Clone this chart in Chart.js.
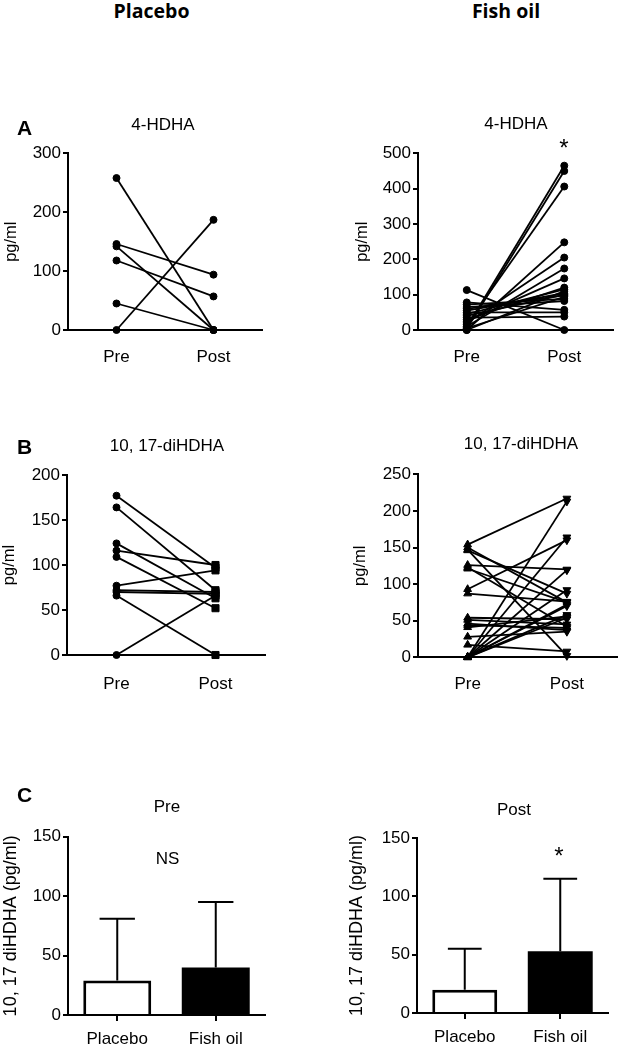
<!DOCTYPE html>
<html>
<head>
<meta charset="utf-8">
<script src="https://cdn.jsdelivr.net/npm/chart.js@4.4.1/dist/chart.umd.min.js"></script>
<style>
  html, body { margin: 0; padding: 0; background: #fff; }
  #page { position: relative; width: 622px; height: 1045px; overflow: hidden; background: #fff; }
  #page canvas { position: absolute; }
  .lbl {
    position: absolute;
    transform: translate(-50%, -50%);
    line-height: 1;
    white-space: nowrap;
    color: #000;
  }
</style>
</head>
<body>
<div id="page"></div>
<script>
"use strict";

// ---- data ----
const timeLabels = ["Pre", "Post"];
const groupLabels = ["Placebo", "Fish oil"];

// A: 4-HDHA, pg/ml, one entry per subject
const hdhaPlaceboPre = [258, 146, 142, 118, 45, 0];
const hdhaPlaceboPost = [0, 94, 0, 57, 0, 187];
const hdhaFishPre = [8, 3, 15, 0, 20, 10, 25, 30, 45, 0, 55, 40, 60, 5, 72, 65, 78, 50, 35, 113];
const hdhaFishPost = [465, 450, 406, 248, 205, 174, 146, 120, 115, 110, 104, 100, 98, 94, 88, 82, 57, 50, 38, 0];

// B: 10,17-diHDHA, pg/ml
const diPlaceboPre = [177, 164, 124, 116, 109, 77, 72, 70, 66, 0];
const diPlaceboPost = [97, 72, 63, 100, 52, 94, 70, 68, 0, 66];
const diFishPre = [154, 150, 147, 146, 126, 123, 121, 93, 87, 54, 51, 46, 44, 41, 28, 17, 0, 0, 0, 0, 0, 0, 0, 0];
const diFishPost = [217, 75, 2, 87, 120, 42, 75, 160, 76, 52, 45, 37, 40, 56, 35, 8, 213, 164, 119, 92, 70, 58, 54, 72];

// C: 10,17-diHDHA mean + SD
const barPreMean = [29, 40];
const barPreSd = [52, 55];
const barPostMean = [20, 53];
const barPostSd = [35, 62];

Chart.defaults.font.family = '"Liberation Sans", Arial, sans-serif';
Chart.defaults.font.size = 17;
Chart.defaults.color = "#000";

const page = document.getElementById("page");

function makeCanvas(left, top, width, height) {
  const c = document.createElement("canvas");
  c.width = width;
  c.height = height;
  c.style.left = left + "px";
  c.style.top = top + "px";
  c.style.width = width + "px";
  c.style.height = height + "px";
  page.appendChild(c);
  return c;
}

function addLabel(text, x, y, font) {
  const d = document.createElement("div");
  d.className = "lbl";
  d.textContent = text;
  d.style.left = x + "px";
  d.style.top = y + "px";
  d.style.font = font;
  page.appendChild(d);
}

function yAxis(o) {
  return {
    min: 0,
    max: o.max,
    ticks: { stepSize: o.step, padding: 2, color: "#000", font: { size: 17 } },
    grid: { drawOnChartArea: false, drawTicks: true, tickLength: 5, color: "#000", lineWidth: 2 },
    border: { color: "#000", width: 2 },
    title: {
      display: true,
      text: o.title,
      color: "#000",
      font: { size: o.titleSize },
      padding: { top: o.titlePad, bottom: 0 },
    },
    afterFit: (scale) => {
      scale.width = o.width;
    },
  };
}

function xAxis(o) {
  return {
    type: "category",
    offset: true,
    ticks: { padding: o.pad, color: "#000", font: { size: 17 } },
    grid: {
      drawOnChartArea: false,
      drawTicks: o.ticks,
      tickLength: 6,
      offset: false,
      color: "#000",
      lineWidth: 2,
    },
    border: { color: "#000", width: 2 },
    afterFit: (scale) => {
      scale.height = o.height;
    },
  };
}

function pairedDatasets(pre, post, style) {
  return pre.map((v, i) => ({
    data: [v, post[i]],
    borderColor: "#000",
    backgroundColor: "#000",
    borderWidth: 1.8,
    pointStyle: style.pointStyle,
    pointRotation: style.rotation || 0,
    pointRadius: style.radius,
    pointBackgroundColor: "#000",
    pointBorderColor: "#000",
    pointBorderWidth: 1,
    clip: false,
  }));
}

const baseOptions = {
  responsive: false,
  animation: false,
  devicePixelRatio: 1,
  plugins: { legend: { display: false }, tooltip: { enabled: false } },
};

function pairedChart(box, pre, post, style, y, x) {
  const canvas = makeCanvas(box.left, box.top, box.width, box.height);
  return new Chart(canvas, {
    type: "line",
    data: { labels: timeLabels, datasets: pairedDatasets(pre, post, style) },
    options: {
      ...baseOptions,
      layout: { padding: { top: box.padTop, right: box.padRight, bottom: 0, left: 0 } },
      elements: { line: { tension: 0 } },
      scales: { x: xAxis(x), y: yAxis(y) },
    },
  });
}

// one-sided SD whiskers on top of bars
const errorBars = {
  id: "errorBars",
  afterDatasetsDraw(chart) {
    const ctx = chart.ctx;
    const yScale = chart.scales.y;
    chart.data.datasets.forEach((ds, i) => {
      const meta = chart.getDatasetMeta(i);
      meta.data.forEach((bar, j) => {
        const top = yScale.getPixelForValue(ds.data[j] + ds.errors[j]);
        const half = bar.width * 0.26;
        ctx.save();
        ctx.strokeStyle = "#000";
        ctx.lineWidth = 2;
        ctx.beginPath();
        ctx.moveTo(bar.x, bar.y);
        ctx.lineTo(bar.x, top);
        ctx.moveTo(bar.x - half, top);
        ctx.lineTo(bar.x + half, top);
        ctx.stroke();
        ctx.restore();
      });
    });
  },
};

function barChart(box, means, sds, y, x, barPct) {
  const canvas = makeCanvas(box.left, box.top, box.width, box.height);
  return new Chart(canvas, {
    type: "bar",
    data: {
      labels: groupLabels,
      datasets: [
        {
          data: means,
          errors: sds,
          backgroundColor: ["#fff", "#000"],
          borderColor: "#000",
          borderWidth: [3, 0],
          borderSkipped: "bottom",
          inflateAmount: 0,
          barPercentage: barPct,
          categoryPercentage: 1,
        },
      ],
    },
    options: {
      ...baseOptions,
      layout: { padding: { top: box.padTop, right: box.padRight, bottom: 0, left: 0 } },
      scales: { x: xAxis(x), y: yAxis(y) },
    },
    plugins: [errorBars],
  });
}

// ---- panel A ----
pairedChart(
  { left: 0, top: 100, width: 300, height: 270, padTop: 53.3, padRight: 38 },
  hdhaPlaceboPre, hdhaPlaceboPost,
  { pointStyle: "circle", radius: 3.5 },
  { max: 300, step: 100, title: "pg/ml", titleSize: 16.5, titlePad: 2, width: 68 },
  { pad: 17, ticks: false, height: 40 }
);
pairedChart(
  { left: 340, top: 100, width: 282, height: 270, padTop: 53.3, padRight: 9 },
  hdhaFishPre, hdhaFishPost,
  { pointStyle: "circle", radius: 3.5 },
  { max: 500, step: 100, title: "pg/ml", titleSize: 16.5, titlePad: 13, width: 78 },
  { pad: 17, ticks: false, height: 40 }
);

// ---- panel B ----
pairedChart(
  { left: 0, top: 430, width: 300, height: 265, padTop: 45, padRight: 35 },
  diPlaceboPre, diPlaceboPost,
  { pointStyle: ["circle", "rect"], radius: [3.5, 5] },
  { max: 200, step: 50, title: "pg/ml", titleSize: 16.5, titlePad: 0, width: 67 },
  { pad: 19, ticks: false, height: 40 }
);
pairedChart(
  { left: 340, top: 430, width: 282, height: 265, padTop: 44.3, padRight: 1 },
  diFishPre, diFishPost,
  { pointStyle: "triangle", rotation: [0, 180], radius: 4.5 },
  { max: 250, step: 50, title: "pg/ml", titleSize: 16.5, titlePad: 11, width: 78 },
  { pad: 16.5, ticks: false, height: 37.7 }
);

// ---- panel C ----
barChart(
  { left: 0, top: 780, width: 300, height: 265, padTop: 56.7, padRight: 35 },
  barPreMean, barPreSd,
  { max: 150, step: 50, title: "10, 17 diHDHA (pg/ml)", titleSize: 18, titlePad: 0, width: 68 },
  { pad: 8, ticks: true, height: 30 },
  0.69
);
barChart(
  { left: 340, top: 780, width: 282, height: 265, padTop: 58, padRight: 14 },
  barPostMean, barPostSd,
  { max: 150, step: 50, title: "10, 17 diHDHA (pg/ml)", titleSize: 18, titlePad: 6, width: 77 },
  { pad: 8, ticks: true, height: 32 },
  0.68
);

// ---- text ----
const headerFont = "700 19.5px 'Open Sans', sans-serif";
const letterFont = "700 21px 'Liberation Sans', Arial, sans-serif";
const titleFont = "17px 'Liberation Sans', Arial, sans-serif";
const starFont = "24px 'Liberation Sans', Arial, sans-serif";

addLabel("Placebo", 151.5, 10, headerFont);
addLabel("Fish oil", 506, 10, headerFont);
addLabel("A", 24.5, 128, letterFont);
addLabel("B", 24.5, 447, letterFont);
addLabel("C", 24.5, 795, letterFont);
addLabel("4-HDHA", 163, 125, titleFont);
addLabel("4-HDHA", 516, 124, titleFont);
addLabel("10, 17-diHDHA", 167, 445.5, titleFont);
addLabel("10, 17-diHDHA", 521, 444, titleFont);
addLabel("Pre", 167, 807, titleFont);
addLabel("NS", 167.5, 858.5, titleFont);
addLabel("Post", 514, 810, titleFont);
addLabel("*", 564, 148, starFont);
addLabel("*", 559, 856, starFont);
</script>
</body>
</html>
